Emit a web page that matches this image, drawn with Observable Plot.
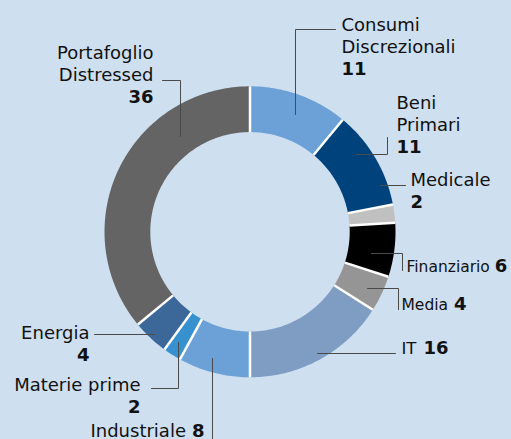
<!DOCTYPE html>
<html>
<head>
<meta charset="utf-8">
<script src="https://cdn.jsdelivr.net/npm/d3@7"></script>
<script src="https://cdn.jsdelivr.net/npm/@observablehq/plot@0.6"></script>
<style>
  html, body { margin: 0; padding: 0; background: #cedff0; overflow: hidden; }
  #chart svg { display: block; }
</style>
</head>
<body>
<div id="chart"></div>
<script>
// ---------- DATA ----------
const sectors = ["Consumi Discrezionali", "Beni Primari", "Medicale", "Finanziario", "Media",
                 "IT", "Industriale", "Materie prime", "Energia", "Portafoglio Distressed"];
const values = [11, 11, 2, 6, 4, 16, 8, 2, 4, 36];
const labelLines = [["Consumi", "Discrezionali"], ["Beni", "Primari"], ["Medicale"], ["Finanziario"], ["Media"],
                    ["IT"], ["Industriale"], ["Materie prime"], ["Energia"], ["Portafoglio", "Distressed"]];

// ---------- STYLE / LAYOUT ----------
const colors = ["#6ba1d6", "#00427c", "#c0c0c0", "#000000", "#959595",
                "#7f9cc3", "#6ba1d6", "#3891cf", "#3b6799", "#646464"];
const W = 511, H = 439;
const cx = 249.5, cy = 231.3, rInner = 99.7, rOuter = 145.5;
const LH = 22, FS = 18;
const FONT = "DejaVu Sans";
const labelLayout = [
  {x: 341, y: 30,  anchor: "start", mode: "below",  leader: [[295, 114], [295, 29], [335, 29]]},
  {x: 396, y: 108, anchor: "start", mode: "below",  leader: [[356, 154], [387, 154], [387, 137]]},
  {x: 410, y: 185, anchor: "start", mode: "below",  leader: [[380, 185], [405, 185]]},
  {x: 406, y: 271, anchor: "start", mode: "inline", size: 15.5, gap: 5, leader: [[371, 253], [402, 253], [402, 270]]},
  {x: 401, y: 309, anchor: "start", mode: "inline", size: 15.5, gap: 6, leader: [[367, 288], [398, 288], [398, 309]]},
  {x: 401, y: 353, anchor: "start", mode: "inline", size: 16.5, gap: 7, leader: [[317, 353], [395, 353]]},
  {x: 204, y: 436, anchor: "end",   mode: "inline", size: 18, gap: 6, leader: [[212, 358], [212, 439]]},
  {x: 140, y: 390, anchor: "end",   mode: "below",  leader: [[178, 342], [178, 388], [151, 388]]},
  {x: 89,  y: 338, anchor: "end",   mode: "below",  leader: [[154, 334], [94, 334]]},
  {x: 153, y: 58,  anchor: "end",   mode: "below",  leader: [[180, 136], [180, 80], [162, 80]]}
];

// ---------- BUILD ----------
const ctx = document.createElement("canvas").getContext("2d");
function measure(text, size, bold) {
  ctx.font = `${bold ? "bold " : ""}${size}px '${FONT}'`;
  return ctx.measureText(text).width;
}

const pie = d3.pie().sort(null).value(d => d)(values);

// slice polygons
const slicePts = [];
pie.forEach((p, i) => {
  const n = Math.max(8, Math.ceil((p.endAngle - p.startAngle) * 60));
  const pts = [];
  for (let k = 0; k <= n; k++) {
    const a = p.startAngle + (p.endAngle - p.startAngle) * k / n;
    pts.push([a, rOuter]);
  }
  for (let k = n; k >= 0; k--) {
    const a = p.startAngle + (p.endAngle - p.startAngle) * k / n;
    pts.push([a, rInner]);
  }
  pts.forEach(([a, r]) => slicePts.push({
    name: sectors[i], color: colors[i],
    x: cx + r * Math.sin(a), y: cy - r * Math.cos(a)
  }));
});

// separators at each slice boundary
const seps = pie.map(p => ({
  x1: cx + rInner * Math.sin(p.startAngle), y1: cy - rInner * Math.cos(p.startAngle),
  x2: cx + rOuter * Math.sin(p.startAngle), y2: cy - rOuter * Math.cos(p.startAngle)
}));

// leader lines
const leaderPts = [];
labelLayout.forEach((L, i) => L.leader.forEach(([x, y]) => leaderPts.push({name: sectors[i], x, y})));

// texts
const texts = [];
labelLayout.forEach((L, i) => {
  const lines = labelLines[i];
  const num = String(values[i]);
  if (L.mode === "below") {
    lines.forEach((t, j) => texts.push({text: t, x: L.x, y: L.y + j * LH, anchor: L.anchor, bold: false, size: FS}));
    texts.push({text: num, x: L.x, y: L.y + lines.length * LH, anchor: L.anchor, bold: true, size: FS});
  } else {
    const name = lines.join(" ");
    if (L.anchor === "start") {
      texts.push({text: name, x: L.x, y: L.y, anchor: "start", bold: false, size: L.size});
      texts.push({text: num, x: L.x + measure(name, L.size, false) + L.gap, y: L.y, anchor: "start", bold: true, size: FS});
    } else {
      texts.push({text: num, x: L.x, y: L.y, anchor: "end", bold: true, size: FS});
      texts.push({text: name, x: L.x - measure(num, FS, true) - L.gap, y: L.y, anchor: "end", bold: false, size: L.size});
    }
  }
});

const textMark = (bold, anchor) => Plot.text(texts.filter(d => d.bold === bold && d.anchor === anchor), {
  x: "x", y: "y", text: "text", fontSize: "size", textAnchor: anchor, lineAnchor: "bottom",
  fontWeight: bold ? "bold" : "normal", fill: "#111111", fontFamily: FONT
});

const chart = Plot.plot({
  width: W, height: H, margin: 0,
  x: {domain: [0, W], range: [0, W], axis: null},
  y: {domain: [0, H], range: [0, H], axis: null},
  color: {type: "identity"},
  style: {background: "#cedff0", fontFamily: FONT, color: "#111", overflow: "visible"},
  marks: [
    Plot.line(slicePts, {x: "x", y: "y", z: "name", fill: "color", stroke: null, curve: "linear"}),
    Plot.link(seps, {x1: "x1", y1: "y1", x2: "x2", y2: "y2", stroke: "white", strokeWidth: 2.5}),
    Plot.line(leaderPts, {x: "x", y: "y", z: "name", stroke: "#4a4a4a", strokeWidth: 1, curve: "linear"}),
    textMark(false, "start"), textMark(false, "end"),
    textMark(true, "start"), textMark(true, "end")
  ]
});
document.getElementById("chart").appendChild(chart);
</script>
</body>
</html>
